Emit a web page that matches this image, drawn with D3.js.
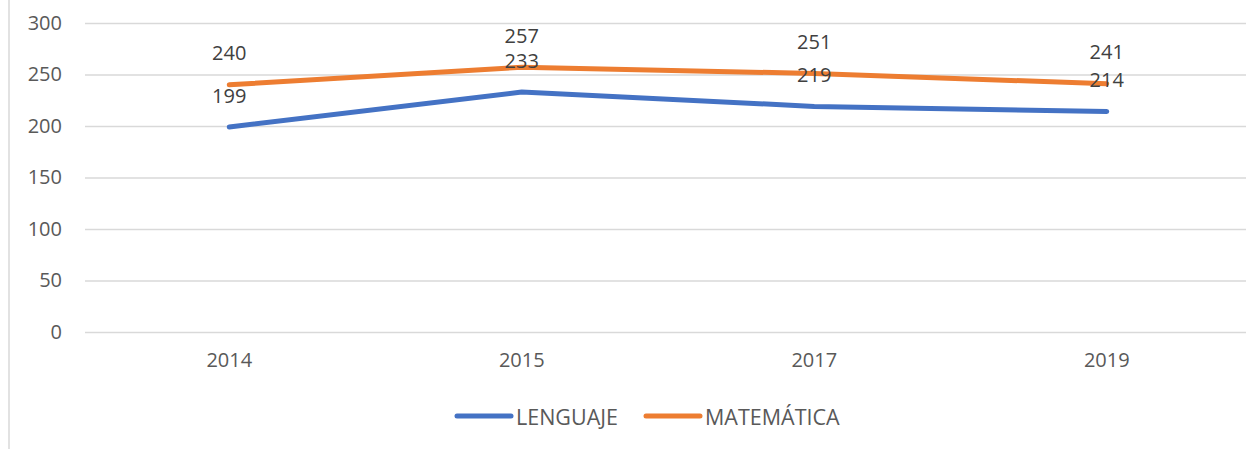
<!DOCTYPE html>
<html>
<head>
<meta charset="utf-8">
<script src="https://cdn.jsdelivr.net/npm/d3@7"></script>
<style>
  body { margin: 0; background: #fff; }
  svg text { font-family: "Open Sans", sans-serif; fill: #595959; }
  .y-axis .domain { display: none; }
  .y-axis line { stroke: #d9d9d9; stroke-width: 1.5; }
  .x-axis .domain, .x-axis line { display: none; }
</style>
</head>
<body>
<svg class="chart" width="1246" height="449"></svg>
<script>
const years = ['2014', '2015', '2017', '2019'];
const lenguaje = [199, 233, 219, 214];
const matematica = [240, 257, 251, 241];
const yTicks = [0, 50, 100, 150, 200, 250, 300];
const seriesNames = ['LENGUAJE', 'MATEMÁTICA'];
const seriesColors = ['#4472c4', '#ed7d31'];

function render()
{
    const svg = d3.select('.chart');

    // left border of the chart area
    svg.append('line')
        .attr('x1', 9).attr('x2', 9)
        .attr('y1', 0).attr('y2', 449)
        .attr('stroke', '#d9d9d9')
        .attr('stroke-width', 1.5);

    const xScale = d3.scaleBand()
        .range([83, 1253])
        .domain(years);

    const yScale = d3.scaleLinear()
        .range([332, 23])
        .domain([0, 300]);

    svg.append('g')
        .attr('class', 'y-axis')
        .attr('transform', 'translate(85, 0)')
        .call(d3.axisLeft(yScale)
            .tickValues(yTicks)
            .tickSize(-1200)
            .tickPadding(23)
        )
        .selectAll('text')
        .style('font-size', '20px');

    svg.append('g')
        .attr('class', 'x-axis')
        .attr('transform', 'translate(0, 332)')
        .call(d3.axisBottom(xScale)
            .tickSize(0)
            .tickPadding(21)
        )
        .selectAll('text')
        .style('font-size', '20px');

    const line = d3.line()
        .x((d, i) => xScale(years[i]) + xScale.bandwidth() / 2)
        .y(d => yScale(d));

    const allSeries = [lenguaje, matematica];

    allSeries.forEach(function(values, s){
        svg.append('path')
            .datum(values)
            .attr('fill', 'none')
            .attr('stroke', seriesColors[s])
            .attr('stroke-width', 5)
            .attr('stroke-linecap', 'round')
            .attr('stroke-linejoin', 'round')
            .attr('d', line);
    });

    allSeries.forEach(function(values){
        svg.selectAll()
            .data(values)
            .enter()
            .append('text')
            .attr('x', (d, i) => xScale(years[i]) + xScale.bandwidth() / 2)
            .attr('y', d => yScale(d) - 32)
            .attr('text-anchor', 'middle')
            .attr('dominant-baseline', 'central')
            .style('font-size', '20px')
            .style('fill', '#404040')
            .text(d => d);
    });

    // legend
    const legendX = [457, 646];
    seriesNames.forEach(function(name, s){
        const g = svg.append('g')
            .attr('transform', `translate(${legendX[s]}, 416)`);
        g.append('line')
            .attr('x1', 0).attr('x2', 54)
            .attr('y1', 0).attr('y2', 0)
            .attr('stroke', seriesColors[s])
            .attr('stroke-width', 5)
            .attr('stroke-linecap', 'round');
        g.append('text')
            .attr('x', 59)
            .attr('y', 0)
            .attr('dominant-baseline', 'central')
            .style('font-size', '21.5px')
            .text(name);
    });
}

render();
</script>
</body>
</html>
